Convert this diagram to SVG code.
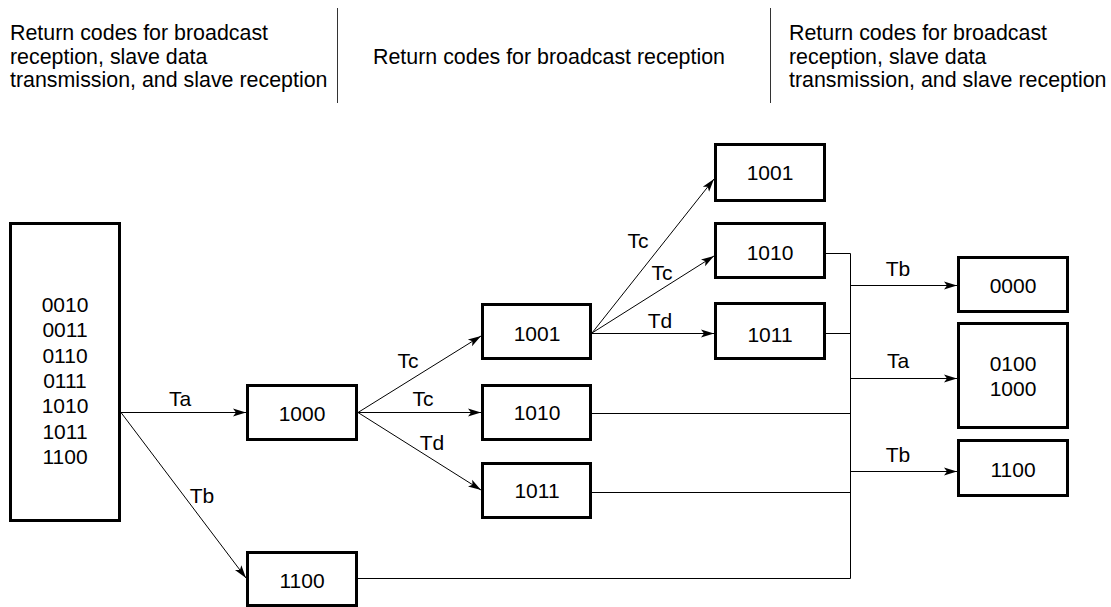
<svg xmlns="http://www.w3.org/2000/svg" width="1111" height="607" viewBox="0 0 1111 607">
<style>
text{font-family:"Liberation Sans",Arial,sans-serif;font-size:21px;fill:#000}
.h{font-size:21.4px}
.c{text-anchor:middle}
.box{fill:#fff;stroke:#000;stroke-width:3}
.ln{fill:none;stroke:#000;stroke-width:1}
.sep{stroke:#333;stroke-width:1}
</style>
<defs>
<marker id="ah" markerUnits="userSpaceOnUse" markerWidth="14" markerHeight="10" viewBox="0 0 14 10" refX="13" refY="5" orient="auto">
<path d="M0,1 L13,5 L0,9 L3,5 z" fill="#000"/>
</marker>
</defs>
<g id="header">
<line class="sep" x1="337.5" y1="8" x2="337.5" y2="103"/>
<line class="sep" x1="770.5" y1="8" x2="770.5" y2="103"/>
<text class="h" x="10" y="40">Return codes for broadcast</text>
<text class="h" x="10" y="63.5">reception, slave data</text>
<text class="h" x="10" y="87">transmission, and slave reception</text>
<text class="h" x="373" y="63.5">Return codes for broadcast reception</text>
<text class="h" x="789" y="40">Return codes for broadcast</text>
<text class="h" x="789" y="63.5">reception, slave data</text>
<text class="h" x="789" y="87">transmission, and slave reception</text>
</g>
<g id="connectors">
<line class="ln" x1="121" y1="412.5" x2="246" y2="412.5" marker-end="url(#ah)"/>
<line class="ln" x1="121" y1="412.5" x2="246" y2="578" marker-end="url(#ah)"/>
<line class="ln" x1="358" y1="412.5" x2="481" y2="336" marker-end="url(#ah)"/>
<line class="ln" x1="358" y1="412.5" x2="481" y2="412.5" marker-end="url(#ah)"/>
<line class="ln" x1="358" y1="412.5" x2="481" y2="490" marker-end="url(#ah)"/>
<line class="ln" x1="592" y1="333" x2="714" y2="179" marker-end="url(#ah)"/>
<line class="ln" x1="592" y1="333" x2="714" y2="256" marker-end="url(#ah)"/>
<line class="ln" x1="592" y1="333.5" x2="714" y2="333.5" marker-end="url(#ah)"/>
<polyline class="ln" points="826,253.5 850.5,253.5 850.5,578.5 358,578.5"/>
<line class="ln" x1="826" y1="333.5" x2="850.5" y2="333.5"/>
<line class="ln" x1="592" y1="413.5" x2="850.5" y2="413.5"/>
<line class="ln" x1="592" y1="492.5" x2="850.5" y2="492.5"/>
<line class="ln" x1="850.5" y1="285.5" x2="957" y2="285.5" marker-end="url(#ah)"/>
<line class="ln" x1="850.5" y1="378.5" x2="957" y2="378.5" marker-end="url(#ah)"/>
<line class="ln" x1="850.5" y1="471.5" x2="957" y2="471.5" marker-end="url(#ah)"/>
<text class="c" x="180" y="406">Ta</text>
<text class="c" x="202" y="503">Tb</text>
<text class="c" x="408" y="368">Tc</text>
<text class="c" x="423" y="406">Tc</text>
<text class="c" x="432" y="450">Td</text>
<text class="c" x="638" y="248">Tc</text>
<text class="c" x="662" y="280">Tc</text>
<text class="c" x="660" y="328">Td</text>
<text class="c" x="898" y="276">Tb</text>
<text class="c" x="898" y="368">Ta</text>
<text class="c" x="898" y="462">Tb</text>
</g>
<g id="n-start">
<rect class="box" x="10.5" y="223.5" width="109" height="297"/>
<text class="c" x="65" y="312">0010</text>
<text class="c" x="65" y="337.3">0011</text>
<text class="c" x="65" y="362.6">0110</text>
<text class="c" x="65" y="387.9">0111</text>
<text class="c" x="65" y="413.2">1010</text>
<text class="c" x="65" y="438.5">1011</text>
<text class="c" x="65" y="463.8">1100</text>
</g>
<g id="n-1000">
<rect class="box" x="247.5" y="385.5" width="109" height="54"/>
<text class="c" x="302" y="421">1000</text>
</g>
<g id="n-1100a">
<rect class="box" x="247.5" y="552.5" width="109" height="53"/>
<text class="c" x="302" y="588">1100</text>
</g>
<g id="n-1001a">
<rect class="box" x="482.5" y="304.5" width="108" height="54"/>
<text class="c" x="537" y="341">1001</text>
</g>
<g id="n-1010a">
<rect class="box" x="482.5" y="385.5" width="108" height="54"/>
<text class="c" x="537" y="420">1010</text>
</g>
<g id="n-1011a">
<rect class="box" x="482.5" y="463.5" width="108" height="54"/>
<text class="c" x="537" y="498">1011</text>
</g>
<g id="n-1001b">
<rect class="box" x="715.5" y="144.5" width="109" height="56"/>
<text class="c" x="770" y="180">1001</text>
</g>
<g id="n-1010b">
<rect class="box" x="715.5" y="223.5" width="109" height="54"/>
<text class="c" x="770" y="260">1010</text>
</g>
<g id="n-1011b">
<rect class="box" x="715.5" y="303.5" width="109" height="55"/>
<text class="c" x="770" y="342">1011</text>
</g>
<g id="n-0000">
<rect class="box" x="958.5" y="257.5" width="109" height="54"/>
<text class="c" x="1013" y="293">0000</text>
</g>
<g id="n-0100-1000">
<rect class="box" x="958.5" y="323.5" width="109" height="104"/>
<text class="c" x="1013" y="370.5">0100</text>
<text class="c" x="1013" y="396">1000</text>
</g>
<g id="n-1100b">
<rect class="box" x="958.5" y="440.5" width="109" height="55"/>
<text class="c" x="1013" y="477">1100</text>
</g>
</svg>
